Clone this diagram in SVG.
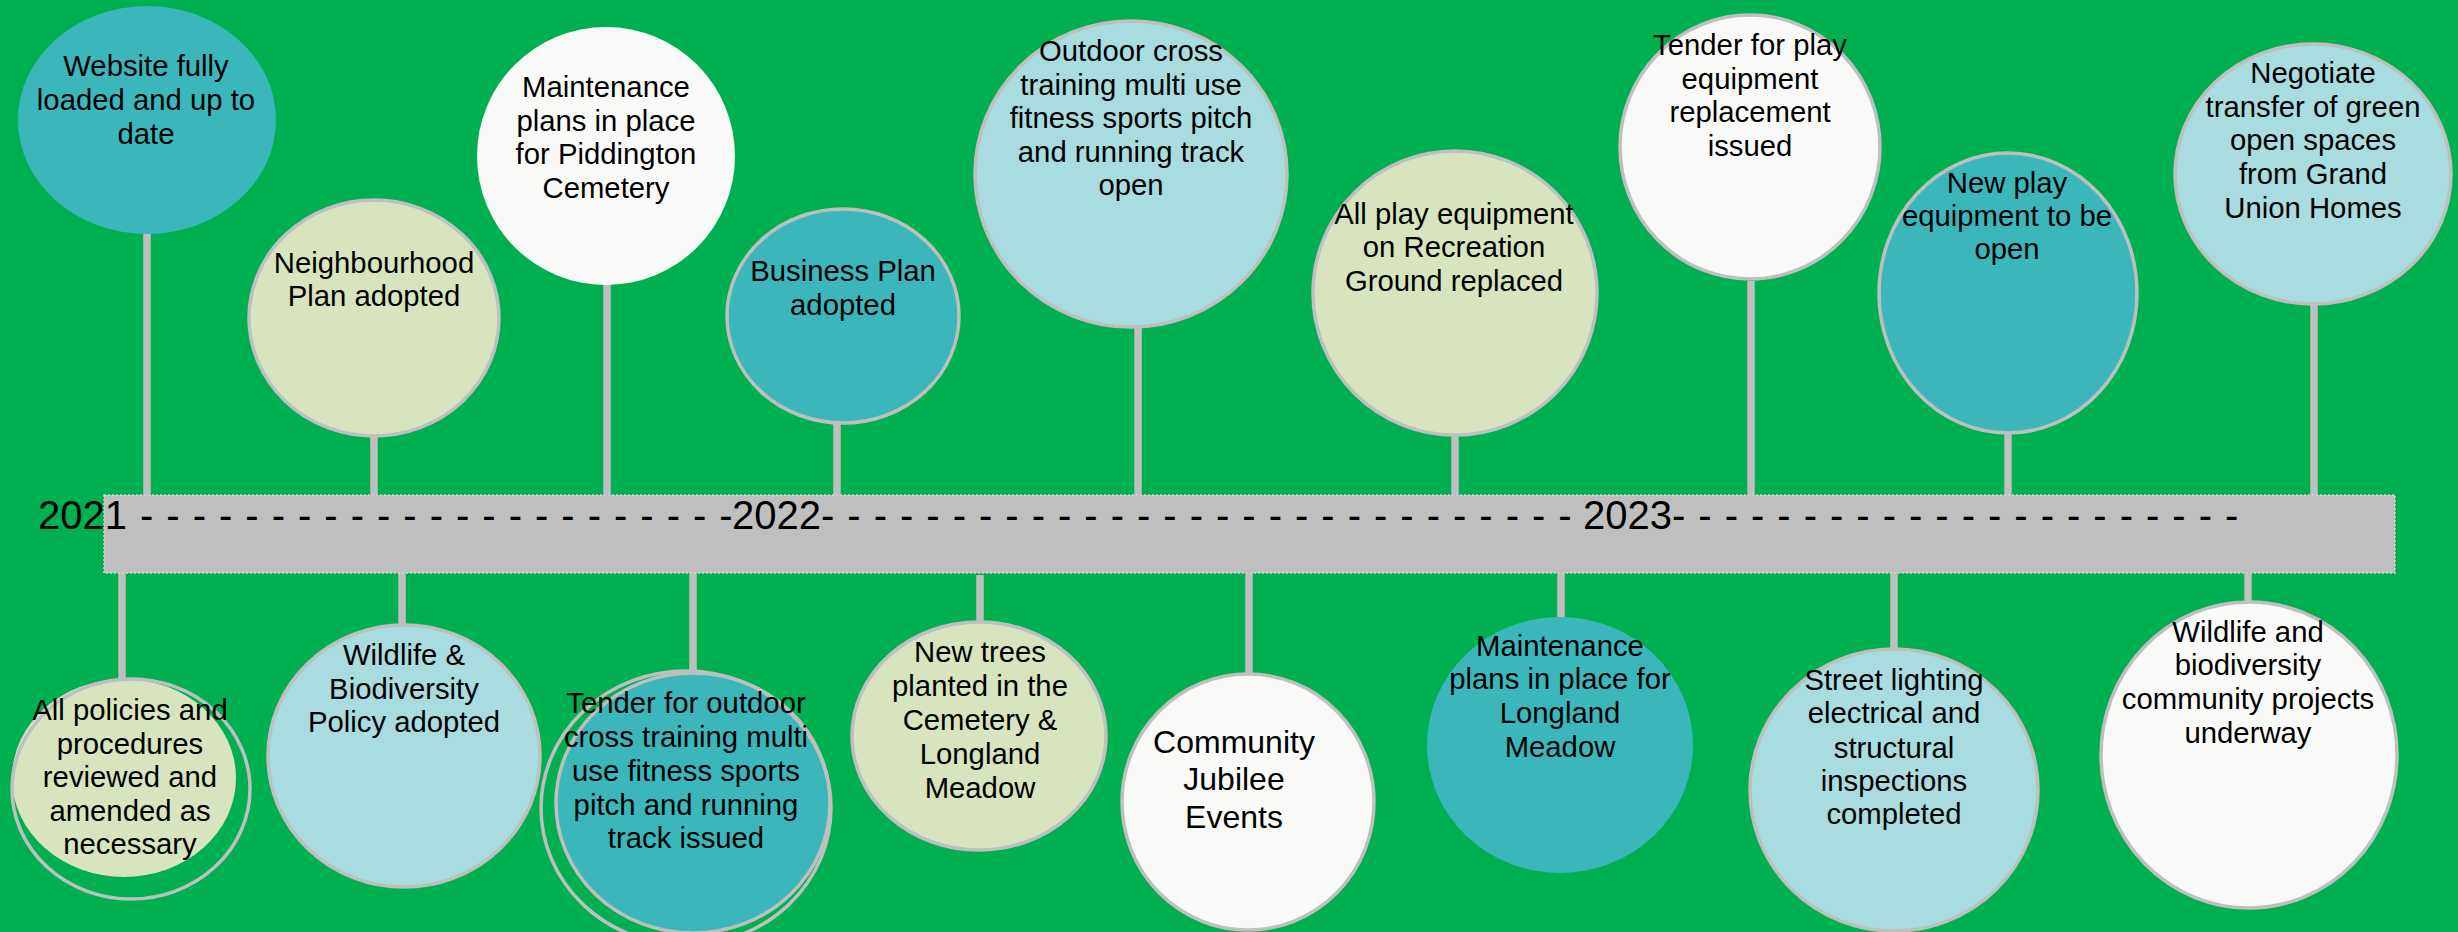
<svg xmlns="http://www.w3.org/2000/svg" width="2458" height="932" viewBox="0 0 2458 932">
<style>
.t{font-family:"Liberation Sans",Arial,sans-serif;font-size:29.3px;fill:#000;text-anchor:middle}
.big{font-size:32px}
.yr{font-family:"Liberation Sans",Arial,sans-serif;font-size:40px;fill:#000;word-spacing:1.9px;white-space:pre}
.stem{stroke:#BFBFBF;stroke-width:7.5;fill:none}
.bd{stroke:#BFBFBF;stroke-width:3.5}
.ol{fill:none;stroke:#BFBFBF;stroke-width:3.5}
.teal{fill:#3BB7BC}
.lb{fill:#A8DCDF}
.lg{fill:#D7E4BD}
.wh{fill:#F9FAF7}
</style>
<rect x="0" y="0" width="2458" height="932" fill="#00B050"/>
<g id="connectors">
<line class="stem" x1="147" y1="230" x2="147" y2="497"/>
<line class="stem" x1="374" y1="434" x2="374" y2="497"/>
<line class="stem" x1="607" y1="283" x2="607" y2="497"/>
<line class="stem" x1="837" y1="421" x2="837" y2="497"/>
<line class="stem" x1="1138" y1="325" x2="1138" y2="497"/>
<line class="stem" x1="1455" y1="433" x2="1455" y2="497"/>
<line class="stem" x1="1751" y1="281" x2="1751" y2="497"/>
<line class="stem" x1="2008" y1="431" x2="2008" y2="497"/>
<line class="stem" x1="2314" y1="302" x2="2314" y2="497"/>
<line class="stem" x1="122" y1="571" x2="122" y2="681"/>
<line class="stem" x1="402" y1="571" x2="402" y2="629"/>
<line class="stem" x1="693" y1="571" x2="693" y2="675"/>
<line class="stem" x1="980" y1="575" x2="980" y2="625"/>
<line class="stem" x1="1249" y1="571" x2="1249" y2="676"/>
<line class="stem" x1="1561" y1="571" x2="1561" y2="619"/>
<line class="stem" x1="1894" y1="571" x2="1894" y2="651"/>
<line class="stem" x1="2248" y1="571" x2="2248" y2="604"/>
</g>
<g id="timeline">
<rect x="104" y="495" width="2291" height="78" fill="#BFBFBF" stroke="#D4D4D4" stroke-width="1.5" stroke-dasharray="2 2"/>
<text class="yr" y="529"><tspan x="38">2021</tspan><tspan> - - - - -</tspan><tspan> - - - - -</tspan><tspan> - - - - -</tspan><tspan> - - - - -</tspan><tspan> - - -</tspan><tspan x="732">2022-</tspan><tspan> - - - - -</tspan><tspan> - - - - -</tspan><tspan> - - - - -</tspan><tspan> - - - - -</tspan><tspan> - - - - -</tspan><tspan> - - - </tspan><tspan x="1583">2023-</tspan><tspan> - - - - -</tspan><tspan> - - - - -</tspan><tspan> - - - - -</tspan><tspan> - - - - -</tspan><tspan> -</tspan></text>
</g>
<g id="n-website">
<ellipse class="teal" cx="147" cy="120" rx="129" ry="114"/>
<text class="t"><tspan x="146" y="76">Website fully</tspan><tspan x="146" y="110">loaded and up to</tspan><tspan x="146" y="144">date</tspan></text>
</g>
<g id="n-neighbourhood">
<ellipse class="lg bd" cx="374" cy="318" rx="125" ry="118"/>
<text class="t"><tspan x="374" y="273">Neighbourhood</tspan><tspan x="374" y="306">Plan adopted</tspan></text>
</g>
<g id="n-piddington">
<ellipse class="wh" cx="606" cy="156" rx="129" ry="129"/>
<text class="t"><tspan x="606" y="97">Maintenance</tspan><tspan x="606" y="131">plans in place</tspan><tspan x="606" y="164">for Piddington</tspan><tspan x="606" y="198">Cemetery</tspan></text>
</g>
<g id="n-business">
<ellipse class="teal bd" cx="843" cy="316" rx="116" ry="107"/>
<text class="t"><tspan x="843" y="281">Business Plan</tspan><tspan x="843" y="315">adopted</tspan></text>
</g>
<g id="n-outdoor-open">
<ellipse class="lb bd" cx="1131" cy="174" rx="156" ry="153"/>
<text class="t"><tspan x="1131" y="61">Outdoor cross</tspan><tspan x="1131" y="95">training multi use</tspan><tspan x="1131" y="128">fitness sports pitch</tspan><tspan x="1131" y="162">and running track</tspan><tspan x="1131" y="195">open</tspan></text>
</g>
<g id="n-play-replaced">
<ellipse class="lg bd" cx="1455" cy="293" rx="142" ry="142"/>
<text class="t"><tspan x="1454" y="224">All play equipment</tspan><tspan x="1454" y="257">on Recreation</tspan><tspan x="1454" y="291">Ground replaced</tspan></text>
</g>
<g id="n-tender-play">
<ellipse class="wh bd" cx="1750" cy="147" rx="130" ry="132"/>
<text class="t"><tspan x="1750" y="55">Tender for play</tspan><tspan x="1750" y="89">equipment</tspan><tspan x="1750" y="122">replacement</tspan><tspan x="1750" y="156">issued</tspan></text>
</g>
<g id="n-new-play">
<ellipse class="teal bd" cx="2008" cy="293" rx="129" ry="140"/>
<text class="t"><tspan x="2007" y="193">New play</tspan><tspan x="2007" y="226">equipment to be</tspan><tspan x="2007" y="259">open</tspan></text>
</g>
<g id="n-negotiate">
<ellipse class="lb bd" cx="2313" cy="174" rx="138" ry="130"/>
<text class="t"><tspan x="2313" y="83">Negotiate</tspan><tspan x="2313" y="117">transfer of green</tspan><tspan x="2313" y="150">open spaces</tspan><tspan x="2313" y="184">from Grand</tspan><tspan x="2313" y="218">Union Homes</tspan></text>
</g>
<g id="n-policies">
<ellipse class="lg" cx="124" cy="778" rx="112" ry="99"/>
<ellipse class="ol" cx="131" cy="789" rx="119" ry="110"/>
<text class="t"><tspan x="130" y="720">All policies and</tspan><tspan x="130" y="754">procedures</tspan><tspan x="130" y="787">reviewed and</tspan><tspan x="130" y="821">amended as</tspan><tspan x="130" y="854">necessary</tspan></text>
</g>
<g id="n-wildlife-policy">
<ellipse class="lb bd" cx="404" cy="756" rx="136" ry="131"/>
<text class="t"><tspan x="404" y="665">Wildlife &amp;</tspan><tspan x="404" y="699">Biodiversity</tspan><tspan x="404" y="732">Policy adopted</tspan></text>
</g>
<g id="n-tender-outdoor">
<ellipse class="teal bd" cx="693" cy="803" rx="137" ry="130"/>
<ellipse class="ol" cx="686" cy="808" rx="145" ry="137"/>
<text class="t"><tspan x="686" y="713">Tender for outdoor</tspan><tspan x="686" y="747">cross training multi</tspan><tspan x="686" y="781">use fitness sports</tspan><tspan x="686" y="815">pitch and running</tspan><tspan x="686" y="848">track issued</tspan></text>
</g>
<g id="n-trees">
<ellipse class="lg bd" cx="979" cy="736" rx="127" ry="114"/>
<text class="t"><tspan x="980" y="662">New trees</tspan><tspan x="980" y="696">planted in the</tspan><tspan x="980" y="730">Cemetery &amp;</tspan><tspan x="980" y="764">Longland</tspan><tspan x="980" y="798">Meadow</tspan></text>
</g>
<g id="n-jubilee">
<ellipse class="wh bd" cx="1248" cy="802" rx="126" ry="128"/>
<text class="t big"><tspan x="1234" y="753">Community</tspan><tspan x="1234" y="790">Jubilee</tspan><tspan x="1234" y="828">Events</tspan></text>
</g>
<g id="n-longland">
<ellipse class="teal" cx="1560" cy="745" rx="133" ry="128"/>
<text class="t"><tspan x="1560" y="656">Maintenance</tspan><tspan x="1560" y="689">plans in place for</tspan><tspan x="1560" y="723">Longland</tspan><tspan x="1560" y="757">Meadow</tspan></text>
</g>
<g id="n-street-lighting">
<ellipse class="lb bd" cx="1894" cy="790" rx="144" ry="141"/>
<text class="t"><tspan x="1894" y="690">Street lighting</tspan><tspan x="1894" y="723">electrical and</tspan><tspan x="1894" y="758">structural</tspan><tspan x="1894" y="791">inspections</tspan><tspan x="1894" y="824">completed</tspan></text>
</g>
<g id="n-wildlife-projects">
<ellipse class="wh bd" cx="2249" cy="755" rx="148" ry="153"/>
<text class="t"><tspan x="2248" y="642">Wildlife and</tspan><tspan x="2248" y="675">biodiversity</tspan><tspan x="2248" y="709">community projects</tspan><tspan x="2248" y="743">underway</tspan></text>
</g>
</svg>
